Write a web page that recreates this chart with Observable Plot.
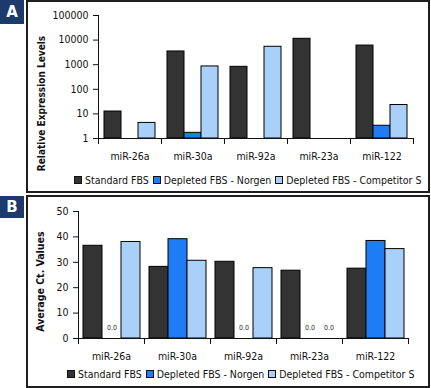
<!DOCTYPE html>
<html>
<head>
<meta charset="utf-8">
<script src="https://cdn.jsdelivr.net/npm/d3@7"></script>
<script src="https://cdn.jsdelivr.net/npm/@observablehq/plot@0.6"></script>
<style>
  html, body { margin: 0; padding: 0; background: #fff; }
  #root { position: relative; width: 431px; height: 388px; overflow: hidden; background: #fff;
          font-family: "DejaVu Sans Condensed", "DejaVu Sans", sans-serif; }
  .panel { position: absolute; box-sizing: border-box; border: 2px solid #1e1e1e; }
  .tag { position: absolute; left: 0; width: 24px; background: #1c3a6c; color: #fff;
         font: bold 15px "DejaVu Sans", sans-serif; display: flex; align-items: center; justify-content: center; }
  .chart { position: absolute; left: 0; }
  .legend { position: absolute; display: flex; align-items: center; font-size: 10.5px; color: #111; white-space: nowrap; }
  .legend .item { display: flex; align-items: center; margin-right: 4px; }
  .legend .sw { width: 6px; height: 6px; border: 1px solid #111; margin-right: 3px; }
</style>
</head>
<body>
<div id="root">
  <div class="panel" style="left:26px;top:0;width:404px;height:193px"></div>
  <div class="panel" style="left:26px;top:195px;width:404px;height:193px"></div>
  <div class="tag" style="top:0;height:24px">A</div>
  <div class="tag" style="top:196px;height:22px">B</div>
  <div class="chart" id="chartA" style="top:0"></div>
  <div class="chart" id="chartB" style="top:195px"></div>
  <div class="legend" id="legA" style="left:74px;top:174px"></div>
  <div class="legend" id="legB" style="left:67px;top:368px"></div>
</div>
<script>
const categories = ["miR-26a", "miR-30a", "miR-92a", "miR-23a", "miR-122"];
const seriesNames = ["Standard FBS", "Depleted FBS - Norgen", "Depleted FBS - Competitor S"];
const seriesColors = ["#333333", "#1e7df4", "#a9d0f9"];

// Panel A: relative expression levels (log scale); null = no bar
const standardA = [12.5, 3450, 820, 11300, 6000];
const norgenA = [null, 1.7, null, null, 3.3];
const competitorA = [4.3, 850, 5350, null, 23];
const ticksA = [1, 10, 100, 1000, 10000, 100000];

// Panel B: average Ct values
const standardB = [36.5, 28.2, 30.2, 26.7, 27.5];
const norgenB = [0, 39.1, 0, 0, 38.4];
const competitorB = [38.0, 30.6, 27.7, 0, 35.2];
const ticksB = [0, 10, 20, 30, 40, 50];

const titleA = "Relative Expression Levels";
const titleB = "Average Ct. Values";

function table(arrs) {
  const rows = [];
  categories.forEach((c, i) => arrs.forEach((a, s) => rows.push({cat: c, series: seriesNames[s], value: a[i]})));
  return rows;
}
const dataA = table([standardA, norgenA, competitorA]);
const dataB = table([standardB, norgenB, competitorB]);

const font = "'DejaVu Sans Condensed', 'DejaVu Sans', sans-serif";

function build(opts) {
  const {data, width, height, mL, mR, mT, mB, y, ticks, fmt, title, titleDy, pad, zeroLabels, tickPad} = opts;
  const innerH = height - mT - mB;
  const bars = data.filter(d => d.value != null && d.value > 0);
  return Plot.plot({
    width, height,
    marginLeft: mL, marginRight: mR, marginTop: mT, marginBottom: mB,
    style: {fontFamily: font, fontSize: "10.5px", color: "#111", background: "transparent", overflow: "visible"},
    fx: {domain: categories, padding: 0, axis: null},
    x: {domain: seriesNames, paddingInner: 0, paddingOuter: pad, axis: null},
    y: {...y, axis: null},
    color: {domain: seriesNames, range: seriesColors},
    marks: [
      Plot.barY(bars, {fx: "cat", x: "series", y1: y.type === "log" ? 1 : 0, y2: "value", fill: "series", stroke: "#000", strokeWidth: 1}),
      zeroLabels ? Plot.text(data.filter(d => d.value === 0), {fx: "cat", x: "series", y: "value", text: d => d.value.toFixed(1), dy: -11, fontSize: 7, fill: "#333"}) : null,
      Plot.frame({anchor: "bottom", stroke: "#111"}),
      Plot.frame({anchor: "left", facetAnchor: "left", stroke: "#111"}),
      // category boundary ticks below the axis
      Plot.frame({anchor: "left", insetTop: innerH, insetBottom: -5, stroke: "#111"}),
      Plot.frame({anchor: "right", facetAnchor: "right", insetTop: innerH, insetBottom: -5, stroke: "#111"}),
      Plot.axisY({ticks, tickFormat: fmt, tickSize: 5, tickPadding: tickPad, label: null, facetAnchor: "left", stroke: "#111", fill: "#111"}),
      Plot.axisFx({anchor: "bottom", tickSize: 0, tickPadding: 14, label: null, fill: "#111"}),
      Plot.text([title], {frameAnchor: "left", facetAnchor: "left", textAnchor: "middle", lineAnchor: "middle", rotate: -90, dx: opts.titleX - mL, dy: titleDy, fontWeight: "bold", fontSize: opts.titleSize, fill: "#111"})
    ]
  });
}

document.getElementById("chartA").appendChild(build({
  data: dataA, width: 431, height: 168, mL: 96, mR: 16, mT: 15, mB: 30,
  y: {type: "log", domain: [1, 100000]}, ticks: ticksA, fmt: d3.format("d"),
  title: titleA, titleX: 39, titleDy: 26.5, titleSize: 10, pad: 0.27, zeroLabels: false, tickPad: 5
}));
document.getElementById("chartB").appendChild(build({
  data: dataB, width: 431, height: 170, mL: 77, mR: 22, mT: 16, mB: 27,
  y: {type: "linear", domain: [0, 50]}, ticks: ticksB, fmt: d3.format("d"),
  title: titleB, titleX: 39, titleDy: 6.6, titleSize: 10.5, pad: 0.235, zeroLabels: true, tickPad: 5
}));

function legend(id) {
  const el = document.getElementById(id);
  seriesNames.forEach((s, i) => {
    const it = document.createElement("div");
    it.className = "item";
    const sw = document.createElement("div");
    sw.className = "sw";
    sw.style.background = seriesColors[i];
    const tx = document.createElement("span");
    tx.textContent = s;
    it.appendChild(sw); it.appendChild(tx);
    el.appendChild(it);
  });
}
legend("legA");
legend("legB");
</script>
</body>
</html>
